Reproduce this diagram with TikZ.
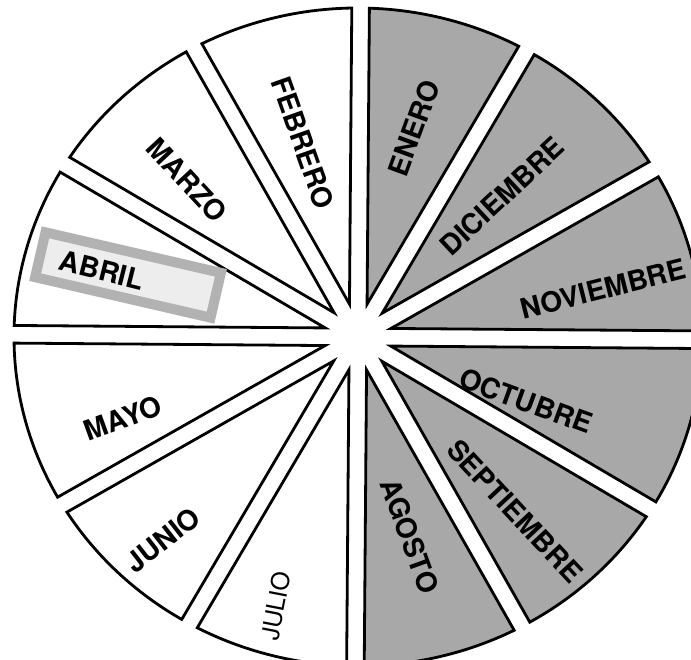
\documentclass[tikz,border=0pt]{standalone}
\usepackage{fontspec}
\setmainfont{TeX Gyre Heros}
\def\ra{3.44}
\def\rb{3.29}
\def\gp{0.088}
\newcommand\edgehit[4]{%
  \pgfmathsetmacro\qA{(#3)^2/(\ra)^2+(#4)^2/(\rb)^2}%
  \pgfmathsetmacro\qB{2*((#1)*(#3)/(\ra)^2+(#2)*(#4)/(\rb)^2)}%
  \pgfmathsetmacro\qC{(#1)^2/(\ra)^2+(#2)^2/(\rb)^2-1}%
  \pgfmathsetmacro\qs{(-(\qB)+sqrt((\qB)^2-4*(\qA)*(\qC)))/(2*(\qA))}%
  \pgfmathsetmacro\Ex{(#1)+(\qs)*(#3)}%
  \pgfmathsetmacro\Ey{(#2)+(\qs)*(#4)}%
  \pgfmathsetmacro\Et{atan2((\Ey)/(\rb),(\Ex)/(\ra))}%
}
\newcommand\monthsector[2]{%
  \pgfmathsetmacro\aA{#1}%
  \pgfmathsetmacro\aB{#1+30}%
  \edgehit{-\gp*sin(\aA)}{\gp*cos(\aA)}{cos(\aA)}{sin(\aA)}%
  \let\xA\Ex \let\yA\Ey \let\tA\Et
  \edgehit{\gp*sin(\aB)}{-\gp*cos(\aB)}{cos(\aB)}{sin(\aB)}%
  \let\tB\Et
  \pgfmathsetmacro\tipd{\gp/sin(15)}%
  \pgfmathsetmacro\tipa{#1+15}%
  \path[#2] (\tipa:\tipd) -- (\xA,\yA)
     arc[start angle=\tA, end angle=\tB, x radius=\ra, y radius=\rb] -- cycle;
}
\tikzset{
  sect/.style={draw=black, line width=0.028cm, line join=miter},
  shaded/.style={sect, fill=black!34},
  plain/.style={sect, fill=white},
  lbl/.style={font=\fontsize{8}{9}\selectfont\bfseries, inner sep=0pt, text=black},
  lblthin/.style={font=\fontsize{7}{8}\selectfont, inner sep=0pt, text=black},
  hilite/.style={draw=black!30, line width=0.10cm, fill=black!7, minimum width=1.8cm, minimum height=0.46cm, inner sep=0pt},
}
\begin{document}
\begin{tikzpicture}
\useasboundingbox (0,0) rectangle (6.91,-6.59);
\clip (0,0) rectangle (6.91,-6.59);
\fill[white] (0,0) rectangle (6.91,-6.59);
\begin{scope}[shift={(3.58,-3.37)}, rotate=-0.45]
  \monthsector{0}{shaded}
  \monthsector{30}{shaded}
  \monthsector{60}{shaded}
  \monthsector{90}{plain}
  \monthsector{120}{plain}
  \monthsector{150}{plain}
  \monthsector{180}{plain}
  \monthsector{210}{plain}
  \monthsector{240}{plain}
  \monthsector{270}{shaded}
  \monthsector{300}{shaded}
  \monthsector{330}{shaded}
\end{scope}
\node[hilite, rotate=-13] (abrilbox) at (1.28,-2.75) {};
\node[lbl, rotate=-70.6] (feb) at (3.03,-1.43) {FEBRERO};
\node[lbl, rotate=-47] (mar) at (1.87,-1.80) {MARZO};
\node[lbl, rotate=-14] (abr) at (1.02,-2.70) {ABRIL};
\node[lbl, rotate=20] (may) at (1.23,-4.18) {MAYO};
\node[lbl, rotate=38] (jun) at (1.63,-5.40) {JUNIO};
\node[lblthin, rotate=79] (jul) at (2.76,-6.06) {JULIO};
\node[lbl, rotate=-70] (ago) at (4.10,-5.36) {AGOSTO};
\node[lbl, rotate=-47] (sep) at (5.15,-5.11) {SEPTIEMBRE};
\node[lbl, rotate=-20] (oct) at (5.26,-4.01) {OCTUBRE};
\node[lbl, rotate=14] (nov) at (6.03,-2.89) {NOVIEMBRE};
\node[lbl, rotate=43] (dic) at (5.02,-1.96) {DICIEMBRE};
\node[lbl, rotate=70] (ene) at (4.14,-1.28) {ENERO};
\end{tikzpicture}
\end{document}
